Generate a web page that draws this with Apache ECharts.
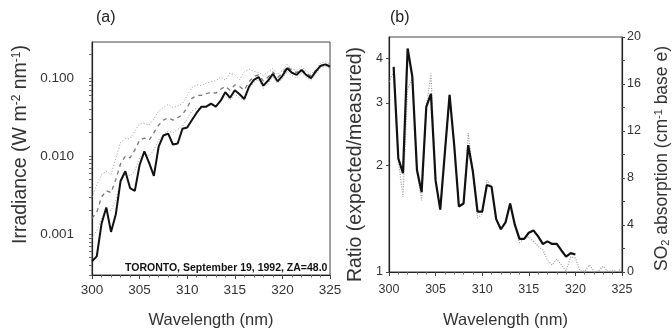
<!DOCTYPE html>
<html><head><meta charset="utf-8">
<script src="https://cdn.jsdelivr.net/npm/echarts@6/dist/echarts.min.js"></script>
<style>html,body{margin:0;padding:0;background:#fff}#c{width:672px;height:334px}</style>
</head><body><div id="c"></div>
<script>
// ---------- Panel (a): irradiance ----------
const wavelengthA = [300,300.5,301,301.5,302,302.5,303,303.5,304,304.5,305,305.5,306,306.5,307,307.5,308,308.5,309,309.5,310,310.5,311,311.5,312,312.5,313,313.5,314,314.5,315,315.5,316,316.5,317,317.5,318,318.5,319,319.5,320,320.5,321,321.5,322,322.5,323,323.5,324,324.5,325];
const measuredA = [0.00045,0.00052,0.00136,0.0022,0.00107,0.0018,0.0048,0.0064,0.0039,0.0036,0.0077,0.0115,0.0082,0.0056,0.0132,0.0184,0.0194,0.0141,0.0145,0.0224,0.0233,0.029,0.036,0.043,0.043,0.047,0.043,0.051,0.066,0.056,0.070,0.062,0.054,0.078,0.095,0.103,0.080,0.093,0.113,0.091,0.107,0.134,0.117,0.110,0.127,0.110,0.100,0.121,0.143,0.150,0.140];
const expectedA = [0.0016,0.0019,0.0030,0.0036,0.0034,0.0050,0.0080,0.0100,0.0095,0.0120,0.0160,0.0170,0.0160,0.0200,0.0250,0.0290,0.0310,0.0290,0.0310,0.0340,0.0420,0.0550,0.0600,0.0600,0.0630,0.0660,0.0640,0.0720,0.0780,0.0700,0.0820,0.0780,0.0700,0.0900,0.1050,0.1100,0.0920,0.1030,0.1200,0.1020,0.1150,0.1400,0.1250,0.1180,0.1300,0.1150,0.1060,0.1250,0.1450,0.1520,0.1430];
const upperA = [0.0030,0.0043,0.0058,0.0064,0.0058,0.0093,0.0150,0.0167,0.0167,0.0210,0.0260,0.0260,0.0250,0.0300,0.0380,0.0420,0.0460,0.0420,0.0440,0.0470,0.0600,0.0760,0.0820,0.0800,0.0860,0.0900,0.0920,0.1030,0.0940,0.1160,0.1100,0.0960,0.1200,0.1300,0.1220,0.1180,0.1080,0.1200,0.1320,0.1120,0.1250,0.1500,0.1330,0.1240,0.1400,0.1230,0.1110,0.1320,0.1550,0.1620,0.1520];
const lowerA = [0.0009,0.0011,0.0016,0.0021,0.0020,0.0028,0.0045,0.0060,0.0056,0.0065,0.0095,0.0110,0.0100,0.0120,0.0160,0.0190,0.0210,0.0200,0.0220,0.0240,0.0300,0.0380,0.0410,0.0410,0.0430,0.0450,0.0440,0.0510,0.0590,0.0520,0.0620,0.0560,0.0520,0.0720,0.0880,0.0950,0.0740,0.0850,0.1030,0.0850,0.0980,0.1220,0.1080,0.1000,0.1160,0.1020,0.0940,0.1120,0.1350,0.1420,0.1320];
const irrLabelValues = [0.001,0.01,0.1];
const irrTickValues = [0.0003,0.0004,0.0005,0.0006,0.0007,0.0008,0.0009,0.001,0.002,0.003,0.004,0.005,0.006,0.007,0.008,0.009,0.01,0.02,0.03,0.04,0.05,0.06,0.07,0.08,0.09,0.1,0.2];

// ---------- Panel (b): ratio and SO2 ----------
const wavelengthRatio = [300.5,301,301.5,302,302.5,303,303.5,304,304.5,305,305.5,306,306.5,307,307.5,308,308.5,309,309.5,310,310.5,311,311.5,312,312.5,313,313.5,314,314.5,315,315.5,316,316.5,317,317.5,318,318.5,319,319.5,320];
const ratioB = [3.79,2.09,1.90,4.27,3.56,1.94,1.68,2.92,3.18,1.81,1.50,2.18,3.16,2.27,1.53,1.56,2.28,1.92,1.48,1.48,1.76,1.74,1.41,1.32,1.38,1.56,1.36,1.24,1.24,1.29,1.31,1.26,1.20,1.22,1.20,1.20,1.15,1.105,1.13,1.12];
const wavelengthSO2 = [300,300.5,301,301.5,302,302.5,303,303.5,304,304.5,305,305.5,306,306.5,307,307.5,308,308.5,309,309.5,310,310.5,311,311.5,312,312.5,313,313.5,314,314.5,315,315.5,316,316.5,317,317.5,318,318.5,319,319.5,320,320.5,321,321.5,322,322.5,323,323.5,324,324.5,325];
const so2B = [16.2,17.0,9.5,6.4,15.6,16.4,8.5,6.1,14.0,16.9,7.8,5.3,10.2,15.1,10.8,5.6,5.9,11.8,8.5,4.6,4.9,7.8,7.3,4.5,3.6,4.2,5.9,4.0,2.5,2.8,3.0,2.6,2.2,1.9,1.0,0.6,1.1,0.6,0.1,1.3,1.2,0.1,0.05,0.6,0.05,0.1,0.5,0.05,0.15,0.05,0.3];
const ratioTickValues = [1,2,3,4];

const FONT = 'Liberation Sans';
const TXT = '#333';

function pairs(xs, ys) { return xs.map((x, i) => [x, ys[i]]); }

function xAxisDef(gi, margin, nameGap, labelSize) {
  return {
    gridIndex: gi, type: 'value', min: 300, max: 325, interval: 5,
    axisLine: { show: true, onZero: false, lineStyle: { color: '#222', width: 1.2 } },
    axisTick: { show: true, length: 4, lineStyle: { color: '#444' } },
    minorTick: { show: true, splitNumber: 5, length: 2.5, lineStyle: { color: '#666' } },
    splitLine: { show: false },
    axisLabel: { margin: margin, fontSize: labelSize, color: TXT, fontFamily: FONT },
    name: 'Wavelength (nm)', nameLocation: 'middle', nameGap: nameGap,
    nameTextStyle: { fontSize: 16.5, color: TXT, fontFamily: FONT }
  };
}

const chart = echarts.init(document.getElementById('c'), null, { renderer: 'canvas' });
chart.setOption({
  animation: false,
  backgroundColor: '#fff',
  title: [
    { text: '(a)', left: 91, top: 5, textStyle: { fontSize: 16, fontWeight: 'normal', color: '#222', fontFamily: FONT } },
    { text: '(b)', left: 385, top: 5, textStyle: { fontSize: 16, fontWeight: 'normal', color: '#222', fontFamily: FONT } },
    { text: 'TORONTO, September 19, 1992, ZA=48.0', left: 120, top: 258, textStyle: { fontSize: 10.5, fontWeight: 'bold', color: '#111', fontFamily: FONT } }
  ],
  grid: [
    { left: 92, top: 42, width: 238, height: 237, show: true, borderColor: '#444', borderWidth: 1 },
    { left: 389, top: 37, width: 238, height: 238, show: true, borderColor: '#444', borderWidth: 1 }
  ],
  xAxis: [ xAxisDef(0, 8, 37, 13.5), xAxisDef(1, 11, 40, 12.5) ],
  yAxis: [
    {
      gridIndex: 0, type: 'log', min: 0.0003, max: 0.29,
      axisLine: { show: true, lineStyle: { color: '#222', width: 1.2 } },
      axisTick: { show: true, length: 3, customValues: irrTickValues, lineStyle: { color: '#666' } },
      splitLine: { show: false },
      axisLabel: { margin: 18, fontSize: 13.5, color: TXT, fontFamily: FONT, customValues: irrLabelValues,
        formatter: v => Number(v).toFixed(3) },
      name: 'Irradiance (W m{s|-2} nm{s|-1})', nameLocation: 'middle', nameGap: 61, nameRotate: 90,
      nameTextStyle: { fontSize: 19.5, color: TXT, fontFamily: FONT, padding: [0, 0, 0, 28],
        rich: { s: { fontSize: 12, verticalAlign: 'top', color: TXT, fontFamily: FONT } } }
    },
    {
      gridIndex: 1, type: 'log', min: 1, max: 4.6, position: 'left',
      axisLine: { show: true, lineStyle: { color: '#222', width: 1.2 } },
      axisTick: { show: true, length: 3, customValues: ratioTickValues, lineStyle: { color: '#444' } },
      splitLine: { show: false },
      axisLabel: { margin: 6, fontSize: 12.5, color: TXT, fontFamily: FONT, customValues: ratioTickValues,
        formatter: v => String(Math.round(v)) },
      name: 'Ratio (expected/measured)', nameLocation: 'middle', nameGap: 23, nameRotate: 90,
      nameTextStyle: { fontSize: 19.5, color: TXT, fontFamily: FONT, padding: [0, 20, 0, 0] }
    },
    {
      gridIndex: 1, type: 'value', min: 0, max: 20, interval: 4, position: 'right',
      axisLine: { show: true, lineStyle: { color: '#222', width: 1.2 } },
      axisTick: { show: true, length: 3, lineStyle: { color: '#444' } },
      minorTick: { show: true, splitNumber: 2, length: 3, lineStyle: { color: '#444' } },
      splitLine: { show: false },
      axisLabel: { margin: 5, fontSize: 12.5, color: TXT, fontFamily: FONT },
      name: 'SO{s|2} absorption (cm{p|-1} base e)', nameLocation: 'middle', nameGap: 31, nameRotate: 90,
      nameTextStyle: { fontSize: 17.5, color: TXT, fontFamily: FONT, padding: [0, 8, 0, 0],
        rich: { s: { fontSize: 11, verticalAlign: 'bottom', color: TXT, fontFamily: FONT },
                p: { fontSize: 11, verticalAlign: 'top', color: TXT, fontFamily: FONT } } }
    }
  ],
  series: [
    { type: 'line', xAxisIndex: 0, yAxisIndex: 0, data: pairs(wavelengthA, upperA), showSymbol: false,
      lineStyle: { color: '#9a9a9a', width: 1, type: [1, 2] }, z: 2 },
    { type: 'line', xAxisIndex: 0, yAxisIndex: 0, data: pairs(wavelengthA, lowerA), showSymbol: false,
      lineStyle: { color: '#9a9a9a', width: 1, type: [1, 2] }, z: 2 },
    { type: 'line', xAxisIndex: 0, yAxisIndex: 0, data: pairs(wavelengthA, expectedA), showSymbol: false,
      lineStyle: { color: '#777', width: 1.3, type: [4, 4] }, z: 3 },
    { type: 'line', xAxisIndex: 0, yAxisIndex: 0, data: pairs(wavelengthA, measuredA), showSymbol: false,
      lineStyle: { color: '#111', width: 2 }, z: 4 },
    { type: 'line', xAxisIndex: 1, yAxisIndex: 2, data: pairs(wavelengthSO2, so2B), showSymbol: false,
      lineStyle: { color: '#9a9a9a', width: 1.2, type: [1, 1.5] }, z: 2 },
    { type: 'line', xAxisIndex: 1, yAxisIndex: 1, data: pairs(wavelengthRatio, ratioB), showSymbol: false,
      lineStyle: { color: '#111', width: 2.2 }, z: 4 }
  ]
});
</script>
</body></html>
